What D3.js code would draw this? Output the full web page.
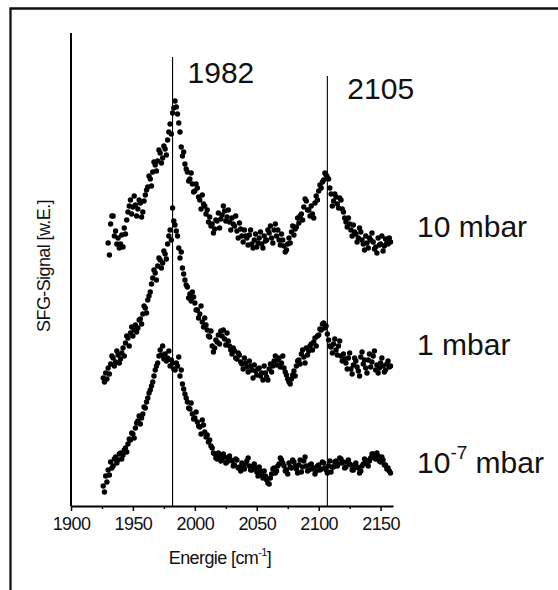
<!DOCTYPE html>
<html>
<head>
<meta charset="utf-8">
<script src="https://cdn.jsdelivr.net/npm/d3@7"></script>
<style>
  body { margin: 0; background: #fff; }
  svg { display: block; font-family: 'Liberation Sans', Arial, sans-serif; }
</style>
</head>
<body>
<svg id="chart"></svg>
<script>
// Energy grid of each spectrum (cm^-1): first point and step
const STEP = 1;
const start10mbar = 1930;
const start1mbar = 1926;
const start1e7mbar = 1926;

// SFG signal (arbitrary units, already offset for stacking), one value per STEP
const sig10mbar = [
  263, 251, 282, 290, 290, 270, 275, 262, 268, 258, 262, 271, 259, 278, 272, 286, 294, 300, 306, 292,
  299, 310, 301, 290, 297, 306, 303, 289, 294, 305, 311, 316, 319, 330, 327, 320, 334, 344, 341, 335,
  345, 356, 353, 343, 348, 360, 357, 351, 366, 374, 382, 372, 393, 398, 405, 399, 392, 383, 374, 359,
  350, 354, 342, 337, 334, 325, 327, 333, 322, 314, 315, 322, 318, 309, 306, 297, 311, 302, 300, 292,
  296, 284, 289, 280, 282, 273, 277, 286, 285, 293, 278, 287, 291, 300, 295, 285, 289, 296, 284, 276,
  288, 282, 280, 290, 275, 268, 283, 277, 270, 264, 276, 270, 268, 261, 271, 276, 262, 258, 266, 272,
  259, 263, 268, 274, 262, 258, 270, 265, 266, 276, 273, 280, 268, 263, 276, 282, 270, 276, 266, 261,
  272, 266, 260, 254, 256, 262, 268, 263, 274, 280, 271, 277, 279, 288, 283, 290, 292, 286, 299, 307,
  305, 296, 296, 290, 300, 292, 288, 303, 310, 306, 315, 321, 318, 324, 326, 333, 331, 329, 327, 318,
  312, 300, 305, 312, 309, 302, 298, 308, 306, 297, 294, 288, 284, 279, 288, 282, 276, 270, 281, 274,
  272, 264, 268, 278, 274, 266, 262, 256, 270, 263, 258, 268, 266, 273, 264, 257, 259, 253, 268, 261,
  262, 270, 255, 260, 267, 263, 262, 268, 264];

const sig1mbar = [
  128, 124, 133, 127, 138, 132, 142, 150, 148, 140, 144, 155, 151, 143, 147, 153, 158, 150, 163, 170,
  168, 160, 173, 179, 170, 176, 181, 174, 178, 186, 187, 182, 192, 200, 198, 193, 206, 210, 214, 222,
  228, 236, 233, 226, 240, 248, 246, 238, 243, 255, 252, 247, 262, 270, 276, 266, 298, 285, 281, 275,
  270, 258, 248, 254, 238, 232, 226, 221, 219, 208, 212, 205, 214, 209, 203, 196, 196, 188, 192, 200,
  184, 179, 188, 181, 176, 170, 169, 175, 160, 154, 158, 166, 164, 171, 162, 175, 170, 176, 167, 161,
  173, 165, 160, 156, 152, 158, 155, 148, 147, 153, 151, 144, 142, 137, 148, 143, 139, 134, 145, 140,
  136, 128, 141, 135, 131, 137, 138, 130, 133, 126, 140, 133, 129, 126, 137, 142, 134, 140, 145, 150,
  141, 146, 148, 139, 143, 150, 138, 134, 131, 127, 124, 122, 127, 131, 135, 130, 140, 145, 146, 142,
  152, 156, 149, 143, 158, 151, 155, 160, 162, 156, 164, 168, 160, 170, 171, 177, 176, 182, 183, 178,
  180, 172, 166, 160, 159, 153, 162, 167, 156, 151, 160, 165, 150, 145, 152, 147, 143, 137, 148, 153,
  137, 132, 141, 148, 145, 139, 135, 130, 149, 154, 142, 146, 138, 133, 146, 152, 139, 144, 150, 155,
  136, 141, 133, 138, 143, 148, 140, 134, 136, 142, 145, 139, 140];

const sig1e7mbar = [
  20, 14, 30, 24, 36, 31, 44, 38, 40, 47, 49, 43, 46, 52, 53, 47, 51, 56, 58, 54,
  62, 67, 66, 73, 72, 68, 78, 83, 85, 90, 82, 88, 92, 99, 98, 104, 108, 113, 116, 120,
  124, 130, 136, 140, 143, 150, 156, 151, 160, 147, 152, 145, 148, 155, 140, 146, 143, 137, 136, 143,
  140, 149, 130, 136, 122, 117, 112, 108, 104, 98, 97, 103, 92, 87, 88, 94, 84, 80, 79, 72,
  86, 81, 74, 69, 71, 64, 66, 60, 58, 53, 52, 48, 47, 53, 50, 45, 46, 52, 49, 43,
  44, 48, 50, 46, 45, 40, 41, 47, 46, 38, 39, 35, 43, 40, 37, 42, 45, 48, 40, 36,
  36, 40, 42, 38, 34, 30, 39, 35, 31, 28, 35, 30, 26, 23, 22, 28, 32, 37, 38, 33,
  35, 40, 42, 48, 46, 43, 40, 35, 36, 32, 43, 39, 38, 46, 44, 40, 37, 33, 41, 46,
  34, 39, 45, 49, 40, 35, 36, 41, 42, 37, 38, 32, 35, 40, 41, 36, 37, 44, 43, 38,
  36, 33, 40, 45, 34, 39, 39, 44, 45, 40, 42, 48, 47, 43, 44, 38, 39, 44, 46, 42,
  41, 36, 36, 41, 43, 39, 38, 33, 35, 40, 42, 47, 46, 42, 40, 45, 48, 52, 52, 48,
  47, 53, 50, 45, 44, 49, 46, 41, 41, 37, 38, 35, 33];

// Peak markers: where the line sits and what it says
const peakPos = [1982, 2107];
const peakText = ['1982', '2105'];

// Pressure labels
const pressureBase = ['10', '1', '10'];
const pressureExp = ['', '', '-7'];

// X ticks
const xMajor = [1900, 1950, 2000, 2050, 2100, 2150];
const xMinor = [1925, 1975, 2025, 2075, 2125];

class SfgVis {

  constructor(_config) {
    this.config = {
      parentElement: _config.parentElement,
      containerWidth: _config.containerWidth || 558,
      containerHeight: _config.containerHeight || 590,
      margin: _config.margin || { top: 33, bottom: 84, right: 165, left: 71 }
    }

    this.width = this.config.containerWidth - this.config.margin.left - this.config.margin.right;
    this.height = this.config.containerHeight - this.config.margin.top - this.config.margin.bottom;
  }

  initVis() {
    let vis = this;

    vis.svg = d3.select(vis.config.parentElement)
        .attr('width', vis.config.containerWidth)
        .attr('height', vis.config.containerHeight);

    // Outer frame (runs off the right and bottom edge)
    vis.svg.append('path')
        .attr('d', 'M10.5,600 V8.5 H570')
        .attr('fill', 'none')
        .attr('stroke', '#111')
        .attr('stroke-width', 2.3);

    vis.chart = vis.svg.append('g')
        .attr('transform', `translate(${vis.config.margin.left},${vis.config.margin.top})`);

    vis.xScale = d3.scaleLinear()
        .domain([1900, 2160])
        .range([0, vis.width]);

    vis.yScale = d3.scaleLinear()
        .domain([0, 473])
        .range([vis.height, 0]);

    // Build the point lists
    vis.series = [
      { values: sig10mbar, start: start10mbar },
      { values: sig1mbar, start: start1mbar },
      { values: sig1e7mbar, start: start1e7mbar }
    ].map(s => s.values.map((v, i) => ({ e: s.start + i * STEP, v: v })));
  }

  render() {
    let vis = this;

    // Peak lines
    vis.chart.selectAll('.peak-line')
        .data(peakPos)
      .join('line')
        .attr('class', 'peak-line')
        .attr('x1', d => vis.xScale(d))
        .attr('x2', d => vis.xScale(d))
        .attr('y1', (d, i) => i === 0 ? 24 : 43)
        .attr('y2', vis.height)
        .attr('stroke', '#000')
        .attr('stroke-width', 1.1);

    vis.chart.selectAll('.peak-text')
        .data(peakPos)
      .join('text')
        .attr('class', 'peak-text')
        .attr('x', (d, i) => vis.xScale(d) + (i === 0 ? 15 : 20))
        .attr('y', (d, i) => i === 0 ? 50 : 66)
        .attr('font-size', 30)
        .attr('fill', '#111')
        .text((d, i) => peakText[i]);

    // Data points
    vis.chart.selectAll('.series')
        .data(vis.series)
      .join('g')
        .attr('class', 'series')
      .selectAll('circle')
        .data(d => d)
      .join('circle')
        .attr('cx', d => vis.xScale(d.e))
        .attr('cy', d => vis.yScale(d.v))
        .attr('r', 2.7)
        .attr('fill', '#000');

    // Pressure labels
    let labelY = [204, 322, 440];
    let labels = vis.chart.selectAll('.pressure')
        .data(pressureBase)
      .join('text')
        .attr('class', 'pressure')
        .attr('x', 346)
        .attr('y', (d, i) => labelY[i])
        .attr('font-size', 30)
        .attr('fill', '#111');
    labels.append('tspan').text(d => d);
    labels.append('tspan')
        .attr('font-size', 19)
        .attr('dy', (d, i) => pressureExp[i] ? -14 : 0)
        .text((d, i) => pressureExp[i]);
    labels.append('tspan')
        .attr('dy', (d, i) => pressureExp[i] ? 14 : 0)
        .text(' mbar');

    // X axis, major and minor ticks
    vis.xAxis = d3.axisBottom(vis.xScale)
        .tickValues(xMajor)
        .tickFormat(d3.format('d'))
        .tickSize(5)
        .tickSizeOuter(0)
        .tickPadding(6);

    vis.xAxisG = vis.chart.append('g')
        .attr('transform', `translate(0,${vis.height})`)
        .call(vis.xAxis);

    vis.xAxisG.select('.domain')
        .attr('stroke', '#000')
        .attr('stroke-width', 2);
    vis.xAxisG.selectAll('.tick line')
        .attr('stroke-width', 1.5);
    vis.xAxisG.selectAll('.tick text')
        .attr('font-size', 18)
        .attr('font-family', "'Liberation Sans', Arial, sans-serif")
        .attr('letter-spacing', -0.6)
        .attr('fill', '#111');

    vis.chart.append('g')
        .attr('transform', `translate(0,${vis.height})`)
        .call(d3.axisBottom(vis.xScale).tickValues(xMinor).tickSize(3).tickFormat(''))
      .call(g => g.select('.domain').remove())
      .selectAll('.tick line')
        .attr('stroke-width', 1.5);

    // Y axis: plain line, no ticks
    vis.chart.append('line')
        .attr('x1', 0)
        .attr('x2', 0)
        .attr('y1', 0)
        .attr('y2', vis.height)
        .attr('stroke', '#000')
        .attr('stroke-width', 2);

    // Axis titles
    let xTitle = vis.chart.append('text')
        .attr('x', vis.width / 2 - 12)
        .attr('y', vis.height + 58)
        .attr('text-anchor', 'middle')
        .attr('font-size', 18)
        .attr('letter-spacing', -0.6)
        .attr('fill', '#111');
    xTitle.append('tspan').text('Energie [cm');
    xTitle.append('tspan').attr('font-size', 11).attr('dy', -8).text('-1');
    xTitle.append('tspan').attr('dy', 8).text(']');

    vis.chart.append('text')
        .attr('transform', `translate(-21,${266 - vis.config.margin.top}) rotate(-90)`)
        .attr('text-anchor', 'middle')
        .attr('font-size', 18)
        .attr('letter-spacing', -0.6)
        .attr('fill', '#111')
        .text('SFG-Signal [w.E.]');
  }
}

let sfgVis = new SfgVis({ parentElement: '#chart' });
sfgVis.initVis();
sfgVis.render();
</script>
</body>
</html>
